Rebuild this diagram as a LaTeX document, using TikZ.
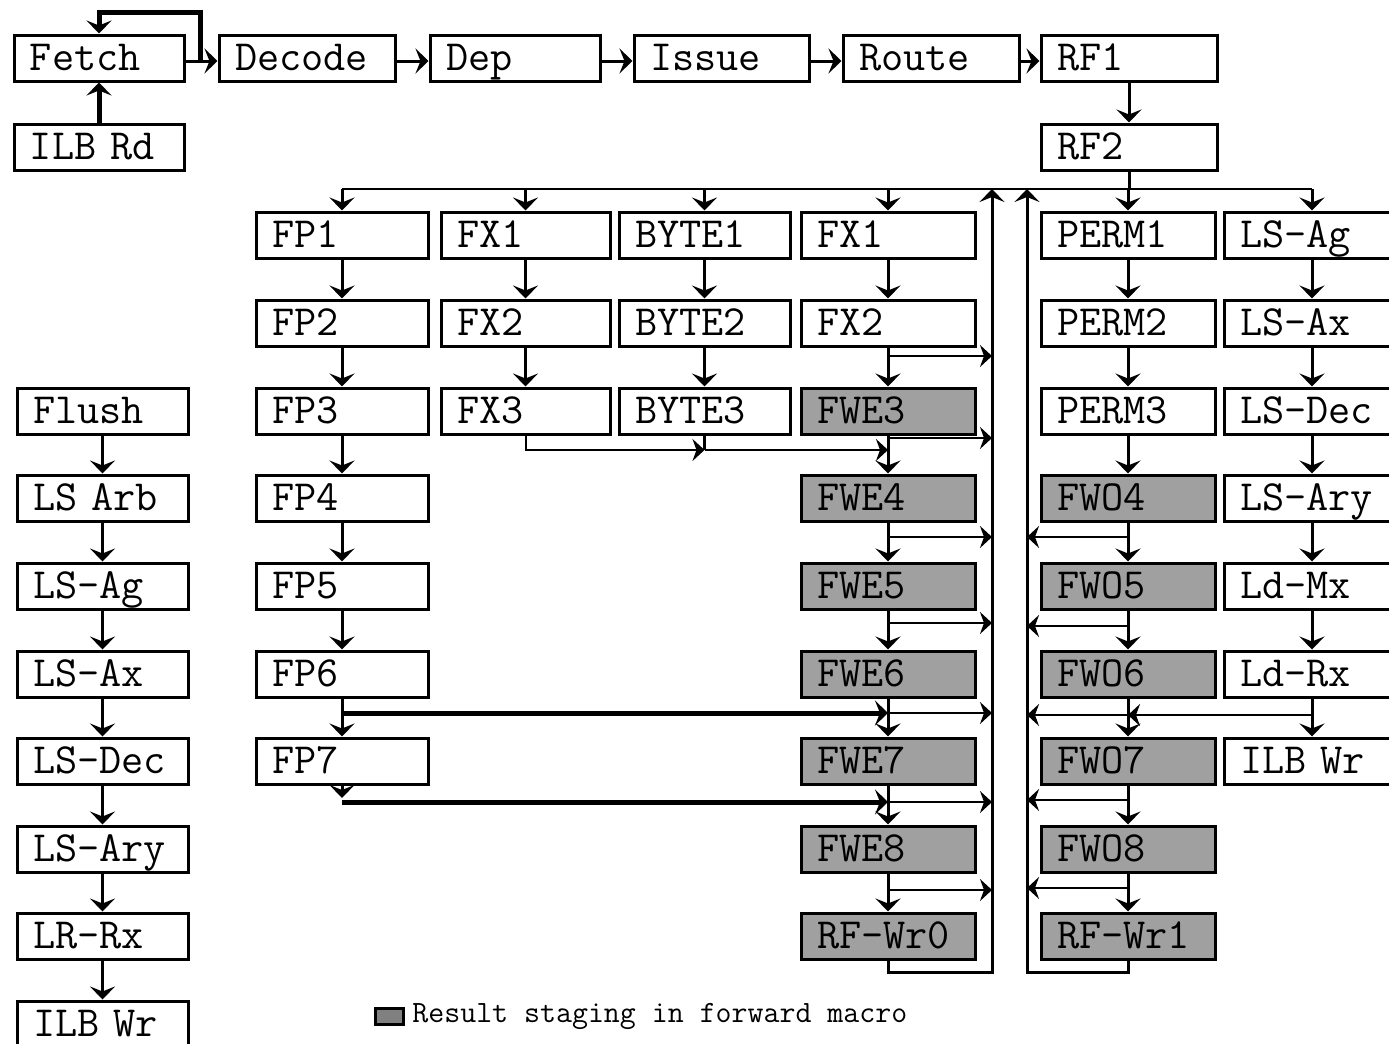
\documentclass[tikz,border=0pt]{standalone}
\usepackage{fontspec}
\newfontfamily\boxfont{Latin Modern Mono}
\usetikzlibrary{arrows.meta,calc}
\newcommand\boxsize{\fontsize{21.5pt}{21.5pt}\selectfont}
\newcommand\legsize{\fontsize{15.5pt}{15.5pt}\selectfont}
\definecolor{fwgray}{RGB}{160,160,160}
\definecolor{leggray}{RGB}{128,128,128}
\tikzset{
  box/.style={draw, line width=1.5pt, minimum height=23pt, inner xsep=8pt, inner ysep=0pt,
    text height=12.5pt, text depth=0pt, align=left, font=\boxfont\boxsize,
    minimum width=#1, text width=#1-16pt},
  box/.default=87pt,
  gbox/.style={box=#1, fill=fwgray},
  gbox/.default=87pt,
  ln/.style={line width=1.5pt},
  arr/.style={line width=1.5pt, -{Stealth[length=6.5pt,width=12.5pt,inset=2.5pt]}},
  farr/.style={line width=1pt, -{Stealth[length=6pt,width=11pt,inset=2pt]}},
  tarr/.style={line width=2.5pt, -{Stealth[length=6.5pt,width=12.5pt,inset=2.5pt]}},
}
\begin{document}
\begin{tikzpicture}[x=0.5pt,y=-0.5pt]
\clip (0,0) rectangle (1389,1044);
\fill[white] (0,0) rectangle (1389,1044);
% top row
\node[box=85pt] (fetch) at (99,58) {Fetch};
\node[box=88pt] (decode) at (307,58) {Decode};
\node[box=85pt] (dep) at (515,58) {Dep};
\node[box=87.5pt] (issue) at (721.5,58) {Issue};
\node[box=88pt] (route) at (931,58) {Route};
\node[box=88pt] (rf1) at (1129,58) {RF1};
\node[box=88pt] (rf2) at (1129,147) {RF2};
\node[box=85pt] (ilbrd) at (99,147) {ILB Rd};
% left column
\node[box=85.5pt] (flush) at (102.5,411) {Flush};
\node[box=85.5pt] (lsarb) at (102.5,498) {LS Arb};
\node[box=85.5pt] (lsagL) at (102.5,586) {LS-Ag};
\node[box=85.5pt] (lsaxL) at (102.5,674) {LS-Ax};
\node[box=85.5pt] (lsdecL) at (102.5,761) {LS-Dec};
\node[box=85.5pt] (lsaryL) at (102.5,849) {LS-Ary};
\node[box=85.5pt] (lrrx) at (102.5,936) {LR-Rx};
\node[box=85.5pt] (ilbwrL) at (102.5,1024) {ILB Wr};
% FP column
\node[box=86pt] (fp1) at (342,235) {FP1};
\node[box=86pt] (fp2) at (342,323) {FP2};
\node[box=86pt] (fp3) at (342,411) {FP3};
\node[box=86pt] (fp4) at (342,498) {FP4};
\node[box=86pt] (fp5) at (342,586) {FP5};
\node[box=86pt] (fp6) at (342,674) {FP6};
\node[box=86pt] (fp7) at (342,761) {FP7};
% FX column
\node[box=84.5pt] (fxa1) at (525.5,235) {FX1};
\node[box=84.5pt] (fxa2) at (525.5,323) {FX2};
\node[box=84.5pt] (fxa3) at (525.5,411) {FX3};
% BYTE column
\node[box=85.5pt] (by1) at (704.5,235) {BYTE1};
\node[box=85.5pt] (by2) at (704.5,323) {BYTE2};
\node[box=85.5pt] (by3) at (704.5,411) {BYTE3};
% FX / FWE column
\node[box=87pt] (fxb1) at (888,235) {FX1};
\node[box=87pt] (fxb2) at (888,323) {FX2};
\node[gbox=87pt] (fwe3) at (888,411) {FWE3};
\node[gbox=87pt] (fwe4) at (888,498) {FWE4};
\node[gbox=87pt] (fwe5) at (888,586) {FWE5};
\node[gbox=87pt] (fwe6) at (888,674) {FWE6};
\node[gbox=87pt] (fwe7) at (888,761) {FWE7};
\node[gbox=87pt] (fwe8) at (888,849) {FWE8};
\node[gbox=87pt] (rfwr0) at (888,936) {RF-Wr0};
% PERM / FWO column
\node[box=87pt] (perm1) at (1128,235) {PERM1};
\node[box=87pt] (perm2) at (1128,323) {PERM2};
\node[box=87pt] (perm3) at (1128,411) {PERM3};
\node[gbox=87pt] (fwo4) at (1128,498) {FWO4};
\node[gbox=87pt] (fwo5) at (1128,586) {FWO5};
\node[gbox=87pt] (fwo6) at (1128,674) {FWO6};
\node[gbox=87pt] (fwo7) at (1128,761) {FWO7};
\node[gbox=87pt] (fwo8) at (1128,849) {FWO8};
\node[gbox=87pt] (rfwr1) at (1128,936) {RF-Wr1};
% LS column (right)
\node[box=88pt] (lsag) at (1312,235) {LS-Ag};
\node[box=88pt] (lsax) at (1312,323) {LS-Ax};
\node[box=88pt] (lsdec) at (1312,411) {LS-Dec};
\node[box=88pt] (lsary) at (1312,498) {LS-Ary};
\node[box=88pt] (ldmx) at (1312,586) {Ld-Mx};
\node[box=88pt] (ldrx) at (1312,674) {Ld-Rx};
\node[box=88pt] (ilbwr) at (1312,761) {ILB Wr};
% legend
\node[draw, line width=1.5pt, fill=leggray, minimum width=14pt, minimum height=8pt, inner sep=0pt] (legbox) at (389,1016) {};
\node[anchor=west, font=\boxfont\legsize, inner sep=0pt] (legtext) at (412,1016) {Result staging in forward macro};

% coordinates
\coordinate (fb) at (200,61);
\coordinate (bj) at (1129,189);
\coordinate (lb) at (992,189);
\coordinate (lbb) at (992,972);
\coordinate (rb) at (1027,189);
\coordinate (rbb) at (1027,972);
\coordinate (mj) at (704.5,450);

% top pipeline
\draw[arr] (fetch.east |- fb) -- (decode.west |- fb);
\draw[arr] (decode.east |- fb) -- (dep.west |- fb);
\draw[arr] (dep.east |- fb) -- (issue.west |- fb);
\draw[arr] (issue.east |- fb) -- (route.west |- fb);
\draw[arr] (route.east |- fb) -- (rf1.west |- fb);
\draw[arr] (rf1.south) -- (rf2.north);
\draw[tarr] (fb) -- ++(0,-49) -| (fetch.north);
\draw[tarr] (ilbrd.north) -- (fetch.south);

% distribution bus
\draw[ln] (rf2.south) -- (bj);
\draw[line width=1pt] (fp1.north |- bj) -- (lsag.north |- bj);
\foreach \n in {fp1,fxa1,by1,fxb1,perm1,lsag}
  \draw[arr] (\n.north |- bj) -- (\n.north);

% vertical chains
\foreach \a/\b in {fp1/fp2,fp2/fp3,fp3/fp4,fp4/fp5,fp5/fp6,fp6/fp7,
  fxa1/fxa2,fxa2/fxa3,by1/by2,by2/by3,
  fxb1/fxb2,fxb2/fwe3,fwe3/fwe4,fwe4/fwe5,fwe5/fwe6,fwe6/fwe7,fwe7/fwe8,fwe8/rfwr0,
  perm1/perm2,perm2/perm3,perm3/fwo4,fwo4/fwo5,fwo5/fwo6,fwo6/fwo7,fwo7/fwo8,fwo8/rfwr1,
  lsag/lsax,lsax/lsdec,lsdec/lsary,lsary/ldmx,ldmx/ldrx,ldrx/ilbwr,
  flush/lsarb,lsarb/lsagL,lsagL/lsaxL,lsaxL/lsdecL,lsdecL/lsaryL,lsaryL/lrrx,lrrx/ilbwrL}
  \draw[arr] (\a.south) -- (\b.north);

% FX3 / BYTE3 merge into FWE column
\draw[farr] (fxa3.south) |- (mj);
\draw[ln] (by3.south) -- (mj);
\draw[farr] (mj) -- (mj -| fwe3.south);

% FP6 / FP7 into FWE column
\draw[tarr] (fp6.south |- 0,713) -- (fwe6.south |- 0,713);
\draw[arr] (fp7.south) -- (fp7.south |- 0,798);
\draw[tarr] (fp7.south |- 0,802) -- (fwe7.south |- 0,802);

% forwarding to the left bus
\foreach \n/\y in {fxb2/356,fwe3/438,fwe4/537,fwe5/623,fwe6/713,fwe7/802,fwe8/890}
  \draw[farr] (\n.south |- 0,\y) -- (lb |- 0,\y);
% forwarding to the right bus
\foreach \n/\y in {fwo4/537,fwo5/626,fwo6/715,fwo7/800,fwo8/888}
  \draw[farr] (\n.south |- 0,\y) -- (rb |- 0,\y);
\draw[farr] (ldrx.south |- 0,715) -- (fwo6.south |- 0,715);

% buses back up
\draw[arr] (rfwr0.south) |- (lbb) -- (lb);
\draw[arr] (rfwr1.south) |- (rbb) -- (rb);
\end{tikzpicture}
\end{document}
